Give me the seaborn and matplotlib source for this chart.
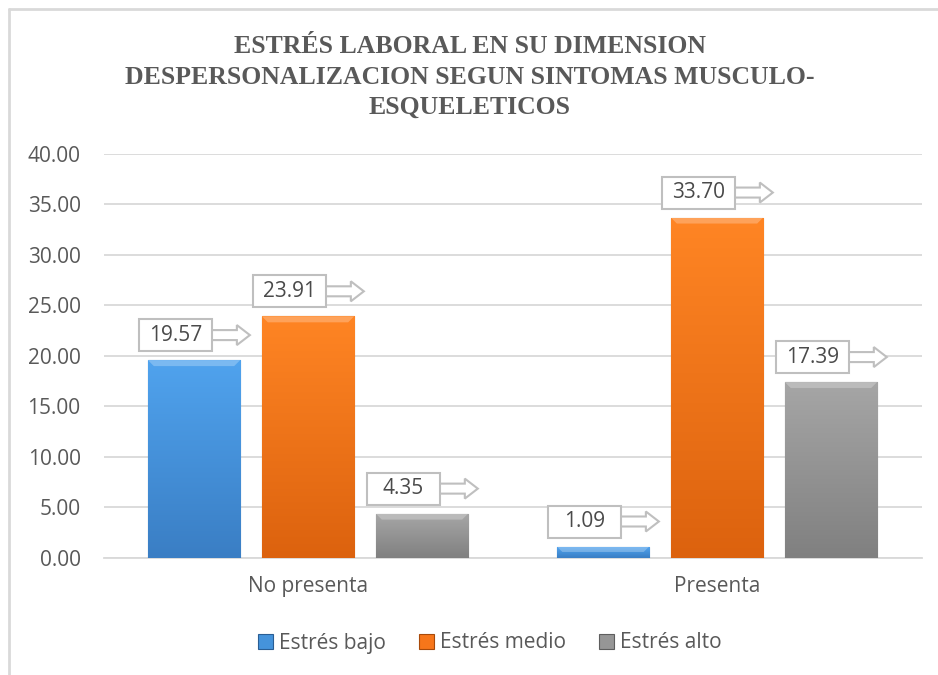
import numpy as np
import pandas as pd
import matplotlib
matplotlib.use("Agg")
import matplotlib.pyplot as plt
import seaborn as sns
from matplotlib.patches import Polygon, Rectangle, Patch
from matplotlib.lines import Line2D
from matplotlib.colors import LinearSegmentedColormap
from matplotlib.transforms import IdentityTransform

# ---------------- data ----------------
categorias = ["No presenta", "Presenta"]
series = ["Estrés bajo", "Estrés medio", "Estrés alto"]
estres_bajo = [19.57, 1.09]
estres_medio = [23.91, 33.70]
estres_alto = [4.35, 17.39]
y_ticks = [0, 5, 10, 15, 20, 25, 30, 35, 40]
titulo = ("ESTRÉS LABORAL EN SU DIMENSION\n"
          "DESPERSONALIZACION SEGUN SINTOMAS MUSCULO-\n"
          "ESQUELETICOS")

colores = {"Estrés bajo": "#4593DB", "Estrés medio": "#F7761A", "Estrés alto": "#969696"}
grad_top = {"Estrés bajo": "#50A3EE", "Estrés medio": "#FF8524", "Estrés alto": "#A6A6A6"}
grad_bot = {"Estrés bajo": "#3A7EC4", "Estrés medio": "#DC620E", "Estrés alto": "#808080"}
bordes = {"Estrés bajo": "#2A5E94", "Estrés medio": "#A84A0A", "Estrés alto": "#5E5E5E"}

df = pd.DataFrame({
    "categoria": categorias * 3,
    "serie": [series[0]] * 2 + [series[1]] * 2 + [series[2]] * 2,
    "valor": estres_bajo + estres_medio + estres_alto,
})

# ---------------- figure ----------------
sns.set_theme(style="white")
plt.rcParams["font.family"] = ["Open Sans", "DejaVu Sans"]
TXT = "#595959"

W, H = 938, 675
fig = plt.figure(figsize=(W / 100, H / 100), dpi=100)
fig.patch.set_facecolor("white")
ax = fig.add_axes([103.5 / W, 1 - 557.5 / H, 818 / W, 403.5 / H])

sns.barplot(data=df, x="categoria", y="valor", hue="serie", hue_order=series,
            palette=colores, width=0.836, gap=0.19, saturation=1, legend=False,
            ax=ax, zorder=3)

ax.set_xlim(-0.5, 1.5)
ax.set_ylim(0, 40)
ax.set_yticks(y_ticks)
ax.set_yticklabels([f"{t:.2f}" for t in y_ticks])
ax.set_xlabel("")
ax.set_ylabel("")
ax.yaxis.grid(True, color="#d9d9d9", lw=1.3)
ax.xaxis.grid(False)
ax.set_axisbelow(True)
for s in ["top", "right", "left"]:
    ax.spines[s].set_visible(False)
ax.spines["bottom"].set_color("#d9d9d9")
ax.spines["bottom"].set_linewidth(1.3)
ax.tick_params(axis="y", length=0, pad=16.5, labelsize=15, labelcolor=TXT)
ax.tick_params(axis="x", length=0, pad=13, labelsize=15, labelcolor=TXT)

# gradient fill of the bars, with a light bevel on top
for serie, cont in zip(series, ax.containers):
    cmap = LinearSegmentedColormap.from_list("g", [grad_top[serie], grad_bot[serie]])
    for bar in cont:
        x0 = bar.get_x(); w = bar.get_width(); h = bar.get_height()
        bar.set_edgecolor(bordes[serie]); bar.set_linewidth(0.8)
        g = np.linspace(0, 1, 256).reshape(-1, 1)
        im = ax.imshow(g, cmap=cmap, extent=(x0, x0 + w, 0, h), aspect="auto",
                       origin="upper", zorder=3.2, interpolation="bicubic")
        im.set_clip_path(bar)
ax.set_xlim(-0.5, 1.5)
ax.set_ylim(0, 40)
ax.set_aspect("auto")

# ---------------- callout labels ----------------
fig.canvas.draw()
ident = IdentityTransform()
for serie, cont in zip(series, ax.containers):
    for bar in cont:
        x0 = bar.get_x(); w = bar.get_width(); h = bar.get_height()
        px, py = ax.transData.transform((x0, h))
        px2, py0 = ax.transData.transform((x0 + w, 0))
        # bevel highlight strip at the bar top
        bev = min(6, (py - py0) / 2)
        fig.add_artist(Polygon([(px, py), (px2, py), (px2 - bev, py - bev), (px + bev, py - bev)],
                               closed=True, transform=ident, facecolor="white",
                               alpha=0.25, lw=0, zorder=4))
        left, right = px - 9, px + 64
        bottom, top = py + 9, py + 41
        cy = (bottom + top) / 2
        arrow = Polygon([(right - 2, cy + 5), (right + 25, cy + 5), (right + 25, cy + 10),
                         (right + 38, cy), (right + 25, cy - 10), (right + 25, cy - 5),
                         (right - 2, cy - 5)], closed=True, transform=ident,
                        facecolor="white", edgecolor="#BFBFBF", lw=1.5, zorder=5)
        box = Rectangle((left, bottom), right - left, top - bottom, transform=ident,
                        facecolor="white", edgecolor="#BFBFBF", lw=1.5, zorder=6)
        fig.add_artist(arrow)
        fig.add_artist(box)
        fig.text((left + right) / 2, cy, f"{h:.2f}", transform=ident, ha="center",
                 va="center", fontsize=15, color="#4a4a4a", zorder=7)

# ---------------- title ----------------
fig.text(470 / W, 1 - 77 / H, titulo, ha="center", va="center", fontsize=18.5,
         fontweight="bold", family="Liberation Serif", color=TXT, linespacing=1.4)

# ---------------- legend ----------------
handles = [Patch(facecolor=colores[s], edgecolor=bordes[s], lw=0.8) for s in series]
leg = fig.legend(handles, series, loc="center", bbox_to_anchor=(490 / W, 1 - 643 / H),
                 ncol=3, frameon=False, fontsize=15, handlelength=0.7, handleheight=0.7,
                 handletextpad=0.3, columnspacing=1.6)
for t in leg.get_texts():
    t.set_color(TXT)

# ---------------- chart border ----------------
fig.add_artist(Line2D([9 / W, 9 / W], [0, 1 - 9 / H], transform=fig.transFigure,
                      color="#d9d9d9", lw=2))
fig.add_artist(Line2D([9 / W, 1], [1 - 9 / H, 1 - 9 / H], transform=fig.transFigure,
                      color="#d9d9d9", lw=2))

fig.savefig("out.png", dpi=100)
